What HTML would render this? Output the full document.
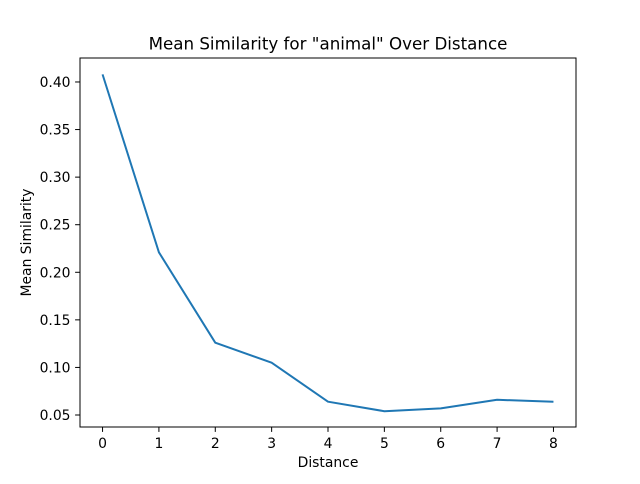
<!DOCTYPE html>
<html><head><meta charset="utf-8"><style>
body{margin:0;background:#fff;font-family:"DejaVu Sans","Liberation Sans",sans-serif;}
svg text{font-family:"DejaVu Sans","Liberation Sans",sans-serif;fill:#000}
</style></head><body>
<svg id="chart" width="640" height="480" xmlns="http://www.w3.org/2000/svg">
<rect width="640" height="480" fill="#fff"/>
<text x="328" y="49.5" font-size="16.7" text-anchor="middle">Mean Similarity for "animal" Over Distance</text>
<g id="xt"></g><g id="yt"></g>
<polyline id="line" fill="none" stroke="#1f77b4" stroke-width="2" stroke-linejoin="round"/>
<rect x="80" y="58" width="496" height="369" fill="none" stroke="#000" stroke-width="1"/>
<text x="328" y="467" font-size="13.9" text-anchor="middle">Distance</text>
<text transform="translate(31,242.5) rotate(-90)" font-size="13.9" text-anchor="middle">Mean Similarity</text>
</svg>
<script>
const distances=[0,1,2,3,4,5,6,7,8];
const similarity=[0.408,0.221,0.126,0.105,0.064,0.054,0.057,0.066,0.064];
const xTicks=[0,1,2,3,4,5,6,7,8];
const yTicks=[0.05,0.10,0.15,0.20,0.25,0.30,0.35,0.40];
const NS="http://www.w3.org/2000/svg";
const X0=80,X1=576,Y0=58,Y1=427;
const xmin=-0.4,xmax=8.4,ymin=0.0374,ymax=0.4252;
const sx=v=>X0+(v-xmin)/(xmax-xmin)*(X1-X0);
const sy=v=>Y1-(v-ymin)/(ymax-ymin)*(Y1-Y0);
function mk(t,a){const e=document.createElementNS(NS,t);for(const k in a)e.setAttribute(k,a[k]);return e;}
const xt=document.getElementById('xt'),yt=document.getElementById('yt');
xTicks.forEach(v=>{const x=sx(v);
const l=mk('line',{x1:x,x2:x,y1:Y1,y2:Y1+4.9,stroke:'#000','stroke-width':1});


xt.appendChild(l);
const t=mk('text',{x:x,y:Y1+21,'font-size':13.9,'text-anchor':'middle'});t.textContent=v;


xt.appendChild(t);});
yTicks.forEach(v=>{const y=sy(v);
const l=mk('line',{x1:X0-4.9,x2:X0,y1:y,y2:y,stroke:'#000','stroke-width':1});


yt.appendChild(l);
const t=mk('text',{x:X0-9.5,y:y+5,'font-size':13.9,'text-anchor':'end'});t.textContent=v.toFixed(2);


yt.appendChild(t);});
document.getElementById('line').setAttribute('points',distances.map((d,i)=>sx(d)+','+sy(similarity[i])).join(' '));
</script>
</body></html>
